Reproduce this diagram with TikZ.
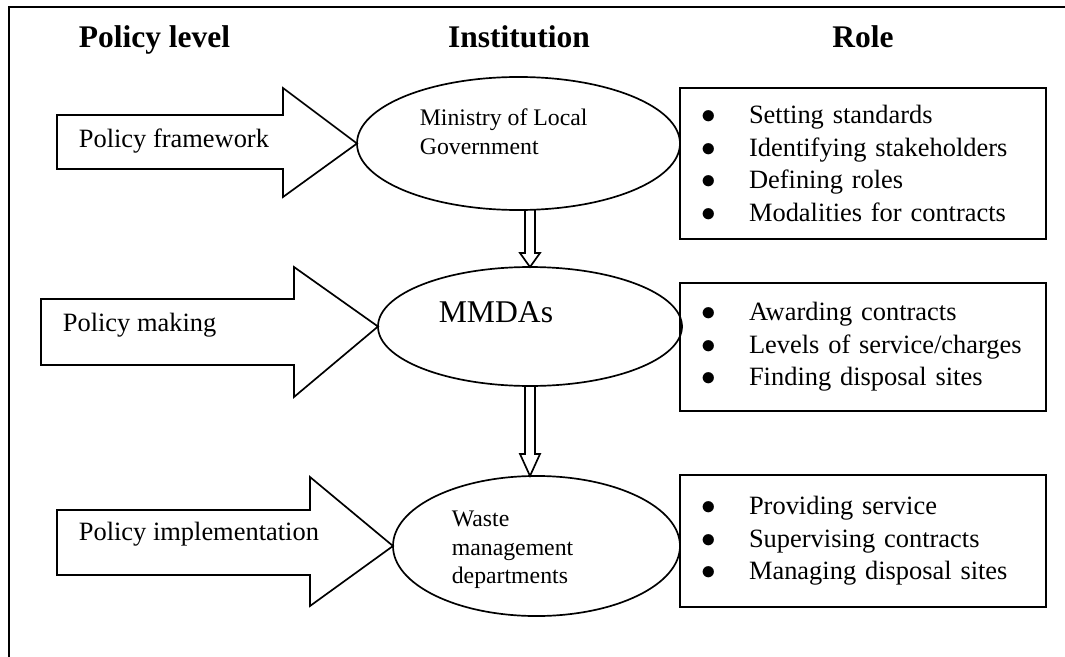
\documentclass[tikz,border=0pt]{standalone}
\usepackage{fontspec}
\setmainfont{Liberation Serif}
\usetikzlibrary{shapes.geometric,calc}

\newcommand{\puce}{\makebox[32.4pt][l]{\hspace{-1.7pt}\fontsize{22}{0}\selectfont$\bullet$}}

\begin{document}
\begin{tikzpicture}[x=0.025cm,y=-0.025cm,line width=1.2pt,
    titre/.style={font=\fontsize{22.4}{26}\selectfont\bfseries,anchor=base,inner sep=0pt},
    texte/.style={font=\fontsize{18.8}{23.1}\selectfont,anchor=base west,inner sep=0pt},
    inst/.style={draw,ellipse,inner sep=0pt,outer sep=0pt},
    insttexte/.style={font=\fontsize{16.9}{20.4}\selectfont,align=left,anchor=west,inner sep=0pt},
    role/.style={draw,rectangle,outer sep=0pt,inner xsep=16.7pt,inner ysep=0pt,
        text width=226.9pt,align=left,font=\fontsize{18.8}{23.1}\selectfont},
    fleche/.style={draw,line join=miter}]
    \useasboundingbox (0,0) rectangle (1065,657);

    % cadre
    \draw (9,657) -- (9,7) -- (1065,7);

    % titres des colonnes
    \node[titre] (niveau) at (154.5,48) {Policy level};
    \node[titre] (institution) at (519,48) {Institution};
    \node[titre] (roles) at (863,48) {Role};

    % institutions
    \node[inst,minimum width=229.7pt,minimum height=94.6pt] (min) at (518.5,143.5) {};
    \node[inst,minimum width=216.2pt,minimum height=84.6pt] (mmda) at (530,326.5) {};
    \node[inst,minimum width=204.1pt,minimum height=99.6pt] (waste) at (536.5,546) {};
    \node[insttexte] (mintxt) at (419,132) {Ministry of Local\\Government};
    \node[font=\fontsize{22.5}{26}\selectfont,anchor=base west,inner sep=0pt] (mmdatxt) at (438,322) {MMDAs};
    \node[insttexte] (wastetxt) at (451,550) {Waste\\management\\departments};

    % grosses fleches (niveaux)
    \draw[fleche] (57,115) -- (283,115) -- (283,88) -- (min.west) -- (283,197) -- (283,169) -- (57,169) -- cycle;
    \draw[fleche] (41,299) -- (294,299) -- (294,267) -- (mmda.west) -- (294,397) -- (294,365) -- (41,365) -- cycle;
    \draw[fleche] (57,510) -- (310,510) -- (310,477) -- (waste.west) -- (310,606) -- (310,575) -- (57,575) -- cycle;
    \node[texte] (cadre) at (78,147) {Policy framework};
    \node[texte] (elab) at (62,331) {Policy making};
    \node[texte] (mise) at (78,540) {Policy implementation};

    % fleches creuses entre institutions
    \draw[fleche] ($(mmda.north |- min.south)+(-5,0)$) -- ($(mmda.north)+(-5,-14)$) -- ($(mmda.north)+(-10,-14)$)
        -- (mmda.north) -- ($(mmda.north)+(10,-14)$) -- ($(mmda.north)+(5,-14)$) -- ($(mmda.north |- min.south)+(5,0)$);
    \draw[fleche] ($(mmda.south)+(-5,0)$) -- ($(mmda.south |- waste.north)+(-5,-22)$) -- ($(mmda.south |- waste.north)+(-10,-22)$)
        -- (mmda.south |- waste.north) -- ($(mmda.south |- waste.north)+(10,-22)$) -- ($(mmda.south |- waste.north)+(5,-22)$) -- ($(mmda.south)+(5,0)$);

    % roles
    \node[role,minimum height=107.4pt] (r1) at (863,163.5) {\puce Setting standards\\ \puce Identifying stakeholders\\ \puce Defining roles\\ \puce Modalities for contracts};
    \node[role,minimum height=91pt] (r2) at (863,347) {\puce Awarding contracts\\ \puce Levels of service/charges\\ \puce Finding disposal sites};
    \node[role,minimum height=93.9pt] (r3) at (863,541) {\puce Providing service\\ \puce Supervising contracts\\ \puce Managing disposal sites};
\end{tikzpicture}
\end{document}
